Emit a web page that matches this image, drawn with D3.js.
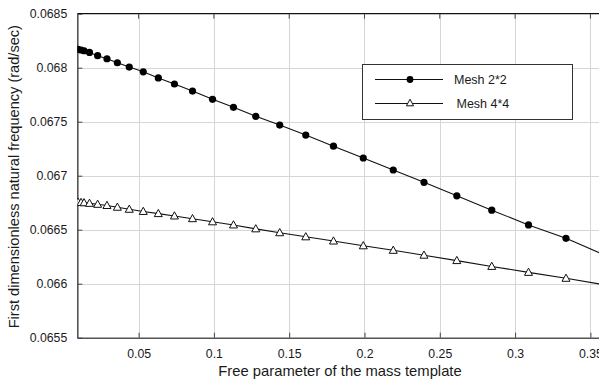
<!DOCTYPE html>
<html>
<head>
<meta charset="utf-8">
<script src="https://cdn.jsdelivr.net/npm/d3@7"></script>
<style>
  body { margin: 0; background: #fff; }
  text { font-family: "Liberation Sans", Arial, sans-serif; fill: #1a1a1a; }
</style>
</head>
<body>
<svg id="chart" width="599" height="383"></svg>
<script>
// Free parameter values at which the frequency was computed
const xValues = [0.0098, 0.0118, 0.0138, 0.0174, 0.0228, 0.0290, 0.0359, 0.0438, 0.0531,
  0.0631, 0.0738, 0.0858, 0.0991, 0.1130, 0.1278, 0.1437, 0.1610, 0.1794, 0.1992,
  0.2191, 0.2395, 0.2613, 0.2845, 0.3089, 0.3338];

// First dimensionless natural frequency (rad/sec), coarse mesh
const mesh2Values = [0.068170, 0.068164, 0.068157, 0.068141, 0.068111, 0.068083, 0.068046,
  0.068006, 0.067962, 0.067905, 0.067849, 0.067784, 0.067707, 0.067633, 0.067550,
  0.067469, 0.067376, 0.067273, 0.067164, 0.067053, 0.066939, 0.066814, 0.066681,
  0.066544, 0.066420];

// First dimensionless natural frequency (rad/sec), fine mesh
const mesh4Values = [0.066755, 0.066752, 0.066749, 0.066744, 0.066735, 0.066724, 0.066708,
  0.066689, 0.066669, 0.066649, 0.066627, 0.066602, 0.066573, 0.066544, 0.066508,
  0.066472, 0.066434, 0.066395, 0.066351, 0.066309, 0.066264, 0.066214, 0.066160,
  0.066105, 0.066050];

// Trend lines continue past the last computed point
const lineEndX = 0.36;
const mesh2LineEnd = 0.066262;
const mesh4LineEnd = 0.065988;

const seriesNames = ["Mesh 2*2", "Mesh 4*4"];

const xTicks = [0.05, 0.1, 0.15, 0.2, 0.25, 0.3, 0.35];
const xTickLabels = ["0.05", "0.1", "0.15", "0.2", "0.25", "0.3", "0.35"];
const yTicks = [0.0655, 0.066, 0.0665, 0.067, 0.0675, 0.068, 0.0685];
const yTickLabels = ["0.0655", "0.066", "0.0665", "0.067", "0.0675", "0.068", "0.0685"];

const xLabel = "Free parameter of the mass template";
const yLabel = "First dimensionless natural frequency (rad/sec)";

// ---- layout ----
const plotLeft = 77.3, plotTop = 13.7, plotBottom = 337.7;
const plotRight = plotLeft + (lineEndX - 0.0093) * 1506;

const svg = d3.select("#chart");

const x = d3.scaleLinear().domain([0.0093, lineEndX]).range([plotLeft, plotRight]);
const y = d3.scaleLinear().domain([0.0655, 0.0685]).range([plotBottom, plotTop]);

// grid
const grid = svg.append("g").attr("stroke", "#d6d6d6").attr("stroke-width", 1);
grid.selectAll("line.v").data(xTicks).join("line")
  .attr("x1", d => Math.round(x(d)) + 0.5).attr("x2", d => Math.round(x(d)) + 0.5)
  .attr("y1", plotTop).attr("y2", plotBottom);
grid.selectAll("line.h").data(yTicks.slice(1, -1)).join("line")
  .attr("y1", d => Math.round(y(d)) + 0.5).attr("y2", d => Math.round(y(d)) + 0.5)
  .attr("x1", plotLeft).attr("x2", plotRight);

// axes (ticks pointing inward)
const xAxis = d3.axisBottom(x).tickValues(xTicks)
  .tickFormat((d, i) => xTickLabels[i]).tickSizeInner(-5).tickSizeOuter(0).tickPadding(12);
const yAxis = d3.axisLeft(y).tickValues(yTicks)
  .tickFormat((d, i) => yTickLabels[i]).tickSizeInner(-5).tickSizeOuter(0).tickPadding(10);

const gx = svg.append("g").attr("transform", `translate(0,${plotBottom})`).call(xAxis);
const gy = svg.append("g").attr("transform", `translate(${plotLeft},0)`).call(yAxis);
[gx, gy].forEach(g => {
  g.select(".domain").attr("stroke", "#555").attr("stroke-width", 1.6);
  g.selectAll(".tick line").attr("stroke", "#444");
  g.selectAll(".tick text").attr("font-size", 12.3).attr("fill", "#1a1a1a")
    .attr("font-family", '"Liberation Sans", Arial, sans-serif');
});

// top border with inward ticks
svg.append("line").attr("x1", plotLeft).attr("x2", plotRight)
  .attr("y1", plotTop).attr("y2", plotTop).attr("stroke", "#111").attr("stroke-width", 1.2);
svg.append("g").selectAll("line").data(xTicks).join("line")
  .attr("x1", d => x(d)).attr("x2", d => x(d))
  .attr("y1", plotTop).attr("y2", plotTop + 5).attr("stroke", "#444");

// axis titles
svg.append("text").attr("x", 340).attr("y", 376)
  .attr("text-anchor", "middle").attr("font-size", 14.8).text(xLabel);
svg.append("text").attr("transform", `translate(19,${(plotTop + plotBottom) / 2 + 1}) rotate(-90)`)
  .attr("text-anchor", "middle").attr("font-size", 14.6).text(yLabel);

// data series
svg.append("clipPath").attr("id", "plotClip").append("rect")
  .attr("x", plotLeft).attr("y", plotTop - 6)
  .attr("width", plotRight - plotLeft + 10).attr("height", plotBottom - plotTop + 6);

const line = d3.line().x(d => x(d[0])).y(d => y(d[1]));
const mesh2Pts = xValues.map((v, i) => [v, mesh2Values[i]]);
const mesh4Pts = xValues.map((v, i) => [v, mesh4Values[i]]);

const plot = svg.append("g").attr("clip-path", "url(#plotClip)");
plot.append("path").datum(mesh2Pts.concat([[lineEndX, mesh2LineEnd]]))
  .attr("d", line).attr("fill", "none").attr("stroke", "#111").attr("stroke-width", 1.1);
plot.append("path").datum(mesh4Pts.concat([[lineEndX, mesh4LineEnd]]))
  .attr("d", line).attr("fill", "none").attr("stroke", "#111").attr("stroke-width", 1.1);

const triPath = "M0,-4.2L4,3L-4,3Z";

plot.selectAll("circle.m2").data(mesh2Pts).join("circle")
  .attr("cx", d => x(d[0])).attr("cy", d => y(d[1])).attr("r", 3.6).attr("fill", "#000");
plot.selectAll("path.m4").data(mesh4Pts).join("path")
  .attr("class", "m4")
  .attr("transform", d => `translate(${x(d[0])},${y(d[1])})`)
  .attr("d", triPath).attr("fill", "#fff").attr("stroke", "#111").attr("stroke-width", 1);

// legend
const lg = svg.append("g");
lg.append("rect").attr("x", 362.5).attr("y", 64.5).attr("width", 210).attr("height", 55)
  .attr("fill", "#fff").attr("stroke", "#333").attr("stroke-width", 1);
const legendRows = [79.5, 103.5];
legendRows.forEach((ly, i) => {
  lg.append("line").attr("x1", 375).attr("x2", 443).attr("y1", ly).attr("y2", ly)
    .attr("stroke", "#111").attr("stroke-width", 1.1);
  if (i === 0) {
    lg.append("circle").attr("cx", 410).attr("cy", ly).attr("r", 3.4).attr("fill", "#000");
  } else {
    lg.append("path").attr("transform", `translate(410,${ly - 0.5})`)
      .attr("d", "M0,-3.8L3.6,2.8L-3.6,2.8Z").attr("fill", "#fff").attr("stroke", "#111");
  }
  lg.append("text").attr("x", i === 0 ? 454 : 456.5).attr("y", ly + 4.5)
    .attr("font-size", 12.5).text(seriesNames[i]);
});
</script>
</body>
</html>
